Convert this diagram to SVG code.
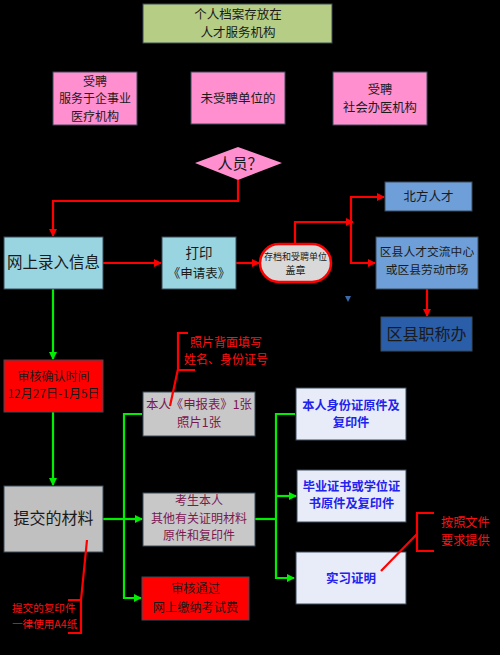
<svg xmlns="http://www.w3.org/2000/svg" width="500" height="655" viewBox="0 0 500 655">
<style>
text{font-family:"Noto Sans CJK SC","Noto Sans",sans-serif;text-anchor:middle;fill:#1a1a1a}
.r{fill:none;stroke:#ff0000;stroke-width:2.2}
.g{fill:none;stroke:#00ee00;stroke-width:2.2}
.bx{stroke:#3a4a5a;stroke-width:1}
.blue{fill:#2222ee;font-weight:bold}
.mar{fill:#7a1850}
.ann{fill:#ff1010;text-anchor:start}
</style>
<defs>
<marker id="ar" markerWidth="8" markerHeight="8" refX="7" refY="4" orient="auto" markerUnits="userSpaceOnUse"><path d="M0,0 L8,4 L0,8 Z" fill="#ff0000"/></marker>
<marker id="ag" markerWidth="8" markerHeight="8" refX="7" refY="4" orient="auto" markerUnits="userSpaceOnUse"><path d="M0,0 L8,4 L0,8 Z" fill="#00ee00"/></marker>
</defs>
<rect width="500" height="655" fill="#000"/>

<g id="connectors">
<polyline class="r" points="238,180 238,201 53,201 53,236" marker-end="url(#ar)"/>
<line class="r" x1="103" y1="263" x2="161" y2="263" marker-end="url(#ar)"/>
<line class="r" x1="236" y1="263" x2="259" y2="263" marker-end="url(#ar)"/>
<polyline class="r" points="295,244 295,222 353,222" marker-end="url(#ar)"/>
<polyline class="r" points="383,197 351,197 351,263 375,263" marker-end="url(#ar)"/>
<line class="r" x1="351" y1="197" x2="384" y2="197" marker-end="url(#ar)"/>
<line class="r" x1="427" y1="289" x2="427" y2="316" marker-end="url(#ar)"/>
<line class="g" x1="53" y1="289" x2="53" y2="359" marker-end="url(#ag)"/>
<line class="g" x1="53" y1="412" x2="53" y2="485" marker-end="url(#ag)"/>
<line class="g" x1="103" y1="519" x2="124" y2="519"/>
<polyline class="g" points="142,414 124,414 124,598 141,598" marker-end="url(#ag)"/>
<line class="g" x1="124" y1="519" x2="142" y2="519" marker-end="url(#ag)"/>
<line class="g" x1="255" y1="519" x2="276" y2="519"/>
<polyline class="g" points="295,414 276,414 276,578 294,578" marker-end="url(#ag)"/>
<line class="g" x1="276" y1="496" x2="296" y2="496" marker-end="url(#ag)"/>
<path d="M345,296 L351,296 L348,302 Z" fill="#3a6aa8"/>
</g>

<g id="n_top"><rect class="bx" x="143" y="4" width="189" height="39" fill="#b5cd85"/><text x="238" y="19" font-size="12.5">个人档案存放在</text><text x="238" y="37" font-size="12.5">人才服务机构</text></g>
<g id="n_pink1"><rect class="bx" x="53" y="72" width="84" height="53" fill="#ff8fcf"/><text x="95" y="85.5" font-size="12">受聘</text><text x="95" y="103" font-size="12">服务于企事业</text><text x="95" y="120.5" font-size="12">医疗机构</text></g>
<g id="n_pink2"><rect class="bx" x="191" y="72" width="94" height="52" fill="#ff8fcf"/><text x="238" y="102.5" font-size="12.5">未受聘单位的</text></g>
<g id="n_pink3"><rect class="bx" x="333" y="72" width="94" height="53" fill="#ff8fcf"/><text x="380" y="94" font-size="12.3">受聘</text><text x="380" y="112" font-size="12.3">社会办医机构</text></g>
<g id="n_diamond"><path d="M238,147 L282,163 L238,180 L195,163 Z" fill="#ff8fcf"/><text x="240" y="168.5" font-size="15">人员？</text></g>
<g id="n_online"><rect class="bx" x="4" y="237" width="99" height="52" fill="#99d5e0"/><text x="53.5" y="268" font-size="15.5" fill="#2222ee">网上录入信息</text></g>
<g id="n_print"><rect class="bx" x="162" y="237" width="74" height="52" fill="#99d5e0"/><text x="199" y="258" font-size="13.5" fill="#2222ee">打印</text><text x="199" y="277.5" font-size="12.5" fill="#2222ee">《申请表》</text></g>
<g id="n_stamp"><rect x="260" y="244" width="71" height="38" rx="19" fill="#d9d9d9" stroke="#ff0000" stroke-width="2.5"/><text x="295.5" y="259.5" font-size="9">存档和受聘单位</text><text x="295.5" y="273.5" font-size="10">盖章</text></g>
<g id="n_north"><rect class="bx" x="385" y="182" width="87" height="29" fill="#6f9fd8"/><text x="428.5" y="200.5" font-size="12.5">北方人才</text></g>
<g id="n_district"><rect class="bx" x="376" y="237" width="102" height="52" fill="#6f9fd8"/><text x="427" y="256" font-size="11.8">区县人才交流中心</text><text x="427" y="273.5" font-size="11.8">或区县劳动市场</text></g>
<g id="n_title"><rect class="bx" x="381" y="317" width="91" height="34" fill="#2a5ea8"/><text x="426.5" y="339.5" font-size="16" fill="#ffff33">区县职称办</text></g>
<g id="n_check"><rect class="bx" x="4" y="360" width="99" height="52" fill="#ff0000"/><text x="53.5" y="380.5" font-size="12">审核确认时间</text><text x="53.5" y="398" font-size="12">12月27日-1月5日</text></g>
<g id="n_submit"><rect class="bx" x="4" y="486" width="99" height="66" fill="#c0c0c0"/><text x="53.5" y="524" font-size="16" fill="#8b1a8b">提交的材料</text></g>
<g id="n_form"><rect class="bx" x="143" y="392" width="112" height="44" fill="#c8c8c8"/><text class="mar" x="199" y="409" font-size="12.4">本人《申报表》1张</text><text class="mar" x="199" y="427.2" font-size="12.4">照片1张</text></g>
<g id="n_other"><rect class="bx" x="143" y="493" width="112" height="53" fill="#c8c8c8"/><text class="mar" x="199" y="505" font-size="12">考生本人</text><text class="mar" x="199" y="522.5" font-size="12">其他有关证明材料</text><text class="mar" x="199" y="540" font-size="12">原件和复印件</text></g>
<g id="n_pay"><rect class="bx" x="142" y="577" width="107" height="43" fill="#ff0000"/><text x="195.5" y="592.5" font-size="12.2">审核通过</text><text x="195.5" y="611.5" font-size="12.2">网上缴纳考试费</text></g>
<g id="n_id"><rect class="bx" x="296" y="388" width="110" height="52" fill="#e8ecf8"/><text class="blue" x="351" y="409.5" font-size="12.2">本人身份证原件及</text><text class="blue" x="351" y="427.2" font-size="12.2">复印件</text></g>
<g id="n_diploma"><rect class="bx" x="297" y="470" width="109" height="52" fill="#e8ecf8"/><text class="blue" x="351.5" y="490.5" font-size="12.2">毕业证书或学位证</text><text class="blue" x="351.5" y="508.2" font-size="12.2">书原件及复印件</text></g>
<g id="n_intern"><rect class="bx" x="296" y="552" width="110" height="52" fill="#e8ecf8"/><text class="blue" x="351" y="582.5" font-size="12.5">实习证明</text></g>

<g id="annotations">
<path class="r" d="M188,333 L178,333 L178,370 L195,370 M178,369 L170,406" stroke-width="2.5"/>
<text class="ann" x="190" y="346.5" font-size="12">照片背面填写</text>
<text class="ann" x="184" y="364" font-size="12">姓名、身份证号</text>
<path class="r" d="M87,540 L81,600 M68,600 L81,600 L81,633 L68,633" stroke-width="2.5"/>
<text class="ann" x="12" y="612" font-size="10.6">提交的复印件</text>
<text class="ann" x="12" y="627.5" font-size="10.6">一律使用A4纸</text>
<path class="r" d="M434,513 L417,513 L417,551 L434,551 M417,534 L381,571" stroke-width="2.5"/>
<text class="ann" x="441" y="527" font-size="12.2">按照文件</text>
<text class="ann" x="441" y="544.8" font-size="12.2">要求提供</text>
</g>
</svg>
